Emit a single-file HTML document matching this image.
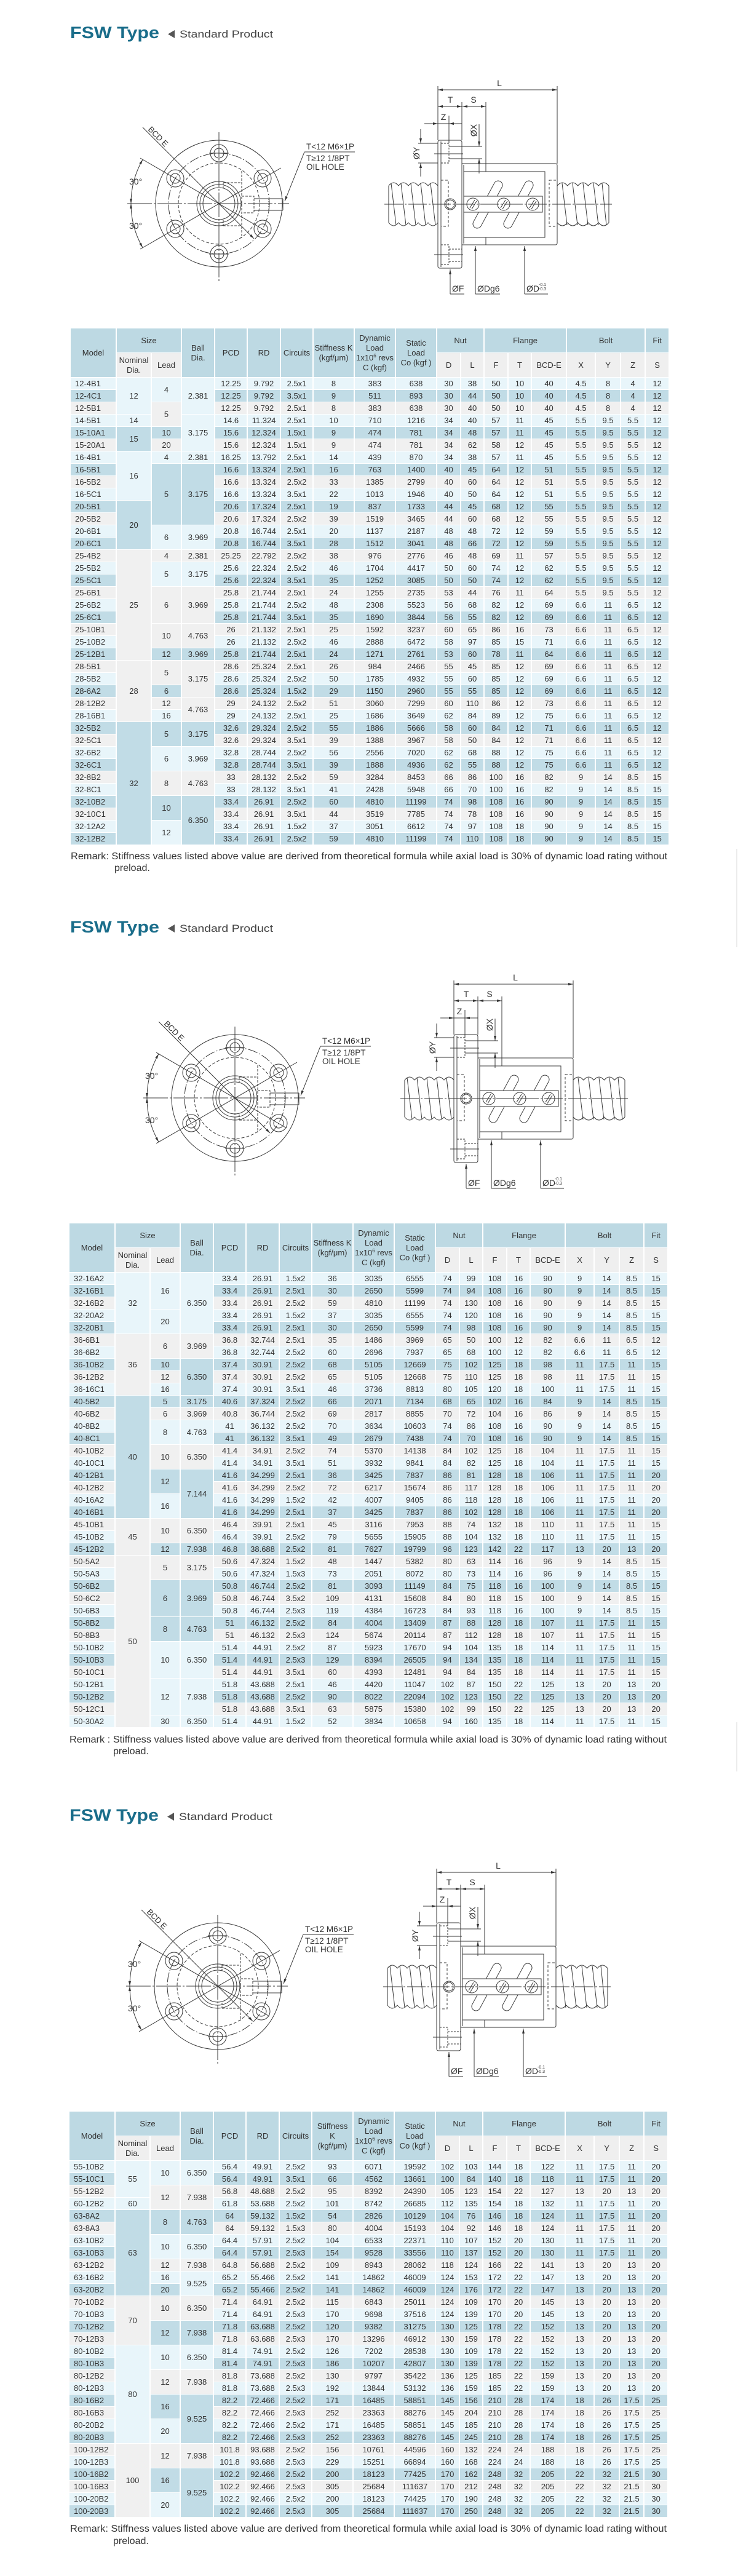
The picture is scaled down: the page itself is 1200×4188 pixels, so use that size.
<!DOCTYPE html>
<html><head><meta charset="utf-8">
<style>
html,body{margin:0;padding:0;background:#fff;}
body{width:1200px;height:4188px;position:relative;overflow:hidden;font-family:"Liberation Sans",Arial,sans-serif;}
table.t{position:absolute;border-collapse:separate;border-spacing:0;table-layout:fixed;width:974px;font-family:"Liberation Sans",Arial,sans-serif;font-size:13px;color:#333;}
.t th{background:#bdd9e3;font-weight:normal;line-height:16px;padding:0;border-right:2px solid #fff;border-bottom:1px solid #fff;height:39px;white-space:nowrap;text-align:center;vertical-align:middle;}
.t th.s{background:#efefef;}
.t td{padding:0;height:19px;line-height:19px;text-align:center;border-right:2px solid #fff;border-bottom:1px solid #fff;white-space:nowrap;overflow:hidden;vertical-align:middle;}
.t td.m{text-align:left;padding-left:7px;}
.t tr.L td{background:#e8f5fa;}
.t tr.M td{background:#c1dce6;}
.t tr.G td{background:#f0f0f0;}
.t sup{font-size:8px;line-height:0;vertical-align:5px;}
svg.ov{position:absolute;left:0;top:0;}
</style></head><body>

<table class="t" style="left:115px;top:534px;">
<colgroup><col style="width:75px"><col style="width:57px"><col style="width:49px"><col style="width:54px"><col style="width:53px"><col style="width:54px"><col style="width:53px"><col style="width:67px"><col style="width:67px"><col style="width:67px"><col style="width:39px"><col style="width:38px"><col style="width:39px"><col style="width:38px"><col style="width:57px"><col style="width:47px"><col style="width:41px"><col style="width:40px"><col style="width:39px"></colgroup>
<tr><th rowspan="2">Model</th><th colspan="2">Size</th><th rowspan="2">Ball<br>Dia.</th><th rowspan="2">PCD</th><th rowspan="2">RD</th><th rowspan="2">Circuits</th><th rowspan="2">Stiffness K<br>(kgf/μm)</th><th rowspan="2">Dynamic<br>Load<br>1x10<sup>6</sup> revs<br>C (kgf)</th><th rowspan="2">Static<br>Load<br>Co (kgf )</th><th colspan="2">Nut</th><th colspan="3">Flange</th><th colspan="3">Bolt</th><th>Fit</th></tr>
<tr><th class="s">Nominal<br>Dia.</th><th class="s">Lead</th><th class="s">D</th><th class="s">L</th><th class="s">F</th><th class="s">T</th><th class="s">BCD-E</th><th class="s">X</th><th class="s">Y</th><th class="s">Z</th><th class="s">S</th></tr>
<tr class="L"><td class="m">12-4B1</td><td rowspan="3">12</td><td rowspan="2">4</td><td rowspan="3">2.381</td><td>12.25</td><td>9.792</td><td>2.5x1</td><td>8</td><td>383</td><td>638</td><td>30</td><td>38</td><td>50</td><td>10</td><td>40</td><td>4.5</td><td>8</td><td>4</td><td>12</td></tr>
<tr class="M"><td class="m">12-4C1</td><td>12.25</td><td>9.792</td><td>3.5x1</td><td>9</td><td>511</td><td>893</td><td>30</td><td>44</td><td>50</td><td>10</td><td>40</td><td>4.5</td><td>8</td><td>4</td><td>12</td></tr>
<tr class="G"><td class="m">12-5B1</td><td rowspan="2">5</td><td>12.25</td><td>9.792</td><td>2.5x1</td><td>8</td><td>383</td><td>638</td><td>30</td><td>40</td><td>50</td><td>10</td><td>40</td><td>4.5</td><td>8</td><td>4</td><td>12</td></tr>
<tr class="L"><td class="m">14-5B1</td><td>14</td><td rowspan="3">3.175</td><td>14.6</td><td>11.324</td><td>2.5x1</td><td>10</td><td>710</td><td>1216</td><td>34</td><td>40</td><td>57</td><td>11</td><td>45</td><td>5.5</td><td>9.5</td><td>5.5</td><td>12</td></tr>
<tr class="M"><td class="m">15-10A1</td><td rowspan="2">15</td><td>10</td><td>15.6</td><td>12.324</td><td>1.5x1</td><td>9</td><td>474</td><td>781</td><td>34</td><td>48</td><td>57</td><td>11</td><td>45</td><td>5.5</td><td>9.5</td><td>5.5</td><td>12</td></tr>
<tr class="G"><td class="m">15-20A1</td><td>20</td><td>15.6</td><td>12.324</td><td>1.5x1</td><td>9</td><td>474</td><td>781</td><td>34</td><td>62</td><td>58</td><td>12</td><td>45</td><td>5.5</td><td>9.5</td><td>5.5</td><td>12</td></tr>
<tr class="L"><td class="m">16-4B1</td><td rowspan="4">16</td><td>4</td><td>2.381</td><td>16.25</td><td>13.792</td><td>2.5x1</td><td>14</td><td>439</td><td>870</td><td>34</td><td>38</td><td>57</td><td>11</td><td>45</td><td>5.5</td><td>9.5</td><td>5.5</td><td>12</td></tr>
<tr class="M"><td class="m">16-5B1</td><td rowspan="5">5</td><td rowspan="5">3.175</td><td>16.6</td><td>13.324</td><td>2.5x1</td><td>16</td><td>763</td><td>1400</td><td>40</td><td>45</td><td>64</td><td>12</td><td>51</td><td>5.5</td><td>9.5</td><td>5.5</td><td>12</td></tr>
<tr class="G"><td class="m">16-5B2</td><td>16.6</td><td>13.324</td><td>2.5x2</td><td>33</td><td>1385</td><td>2799</td><td>40</td><td>60</td><td>64</td><td>12</td><td>51</td><td>5.5</td><td>9.5</td><td>5.5</td><td>12</td></tr>
<tr class="L"><td class="m">16-5C1</td><td>16.6</td><td>13.324</td><td>3.5x1</td><td>22</td><td>1013</td><td>1946</td><td>40</td><td>50</td><td>64</td><td>12</td><td>51</td><td>5.5</td><td>9.5</td><td>5.5</td><td>12</td></tr>
<tr class="M"><td class="m">20-5B1</td><td rowspan="4">20</td><td>20.6</td><td>17.324</td><td>2.5x1</td><td>19</td><td>837</td><td>1733</td><td>44</td><td>45</td><td>68</td><td>12</td><td>55</td><td>5.5</td><td>9.5</td><td>5.5</td><td>12</td></tr>
<tr class="G"><td class="m">20-5B2</td><td>20.6</td><td>17.324</td><td>2.5x2</td><td>39</td><td>1519</td><td>3465</td><td>44</td><td>60</td><td>68</td><td>12</td><td>55</td><td>5.5</td><td>9.5</td><td>5.5</td><td>12</td></tr>
<tr class="L"><td class="m">20-6B1</td><td rowspan="2">6</td><td rowspan="2">3.969</td><td>20.8</td><td>16.744</td><td>2.5x1</td><td>20</td><td>1137</td><td>2187</td><td>48</td><td>48</td><td>72</td><td>12</td><td>59</td><td>5.5</td><td>9.5</td><td>5.5</td><td>12</td></tr>
<tr class="M"><td class="m">20-6C1</td><td>20.8</td><td>16.744</td><td>3.5x1</td><td>28</td><td>1512</td><td>3041</td><td>48</td><td>66</td><td>72</td><td>12</td><td>59</td><td>5.5</td><td>9.5</td><td>5.5</td><td>12</td></tr>
<tr class="G"><td class="m">25-4B2</td><td rowspan="9">25</td><td>4</td><td>2.381</td><td>25.25</td><td>22.792</td><td>2.5x2</td><td>38</td><td>976</td><td>2776</td><td>46</td><td>48</td><td>69</td><td>11</td><td>57</td><td>5.5</td><td>9.5</td><td>5.5</td><td>12</td></tr>
<tr class="L"><td class="m">25-5B2</td><td rowspan="2">5</td><td rowspan="2">3.175</td><td>25.6</td><td>22.324</td><td>2.5x2</td><td>46</td><td>1704</td><td>4417</td><td>50</td><td>60</td><td>74</td><td>12</td><td>62</td><td>5.5</td><td>9.5</td><td>5.5</td><td>12</td></tr>
<tr class="M"><td class="m">25-5C1</td><td>25.6</td><td>22.324</td><td>3.5x1</td><td>35</td><td>1252</td><td>3085</td><td>50</td><td>50</td><td>74</td><td>12</td><td>62</td><td>5.5</td><td>9.5</td><td>5.5</td><td>12</td></tr>
<tr class="G"><td class="m">25-6B1</td><td rowspan="3">6</td><td rowspan="3">3.969</td><td>25.8</td><td>21.744</td><td>2.5x1</td><td>24</td><td>1255</td><td>2735</td><td>53</td><td>44</td><td>76</td><td>11</td><td>64</td><td>5.5</td><td>9.5</td><td>5.5</td><td>12</td></tr>
<tr class="L"><td class="m">25-6B2</td><td>25.8</td><td>21.744</td><td>2.5x2</td><td>48</td><td>2308</td><td>5523</td><td>56</td><td>68</td><td>82</td><td>12</td><td>69</td><td>6.6</td><td>11</td><td>6.5</td><td>12</td></tr>
<tr class="M"><td class="m">25-6C1</td><td>25.8</td><td>21.744</td><td>3.5x1</td><td>35</td><td>1690</td><td>3844</td><td>56</td><td>55</td><td>82</td><td>12</td><td>69</td><td>6.6</td><td>11</td><td>6.5</td><td>12</td></tr>
<tr class="G"><td class="m">25-10B1</td><td rowspan="2">10</td><td rowspan="2">4.763</td><td>26</td><td>21.132</td><td>2.5x1</td><td>25</td><td>1592</td><td>3237</td><td>60</td><td>65</td><td>86</td><td>16</td><td>73</td><td>6.6</td><td>11</td><td>6.5</td><td>12</td></tr>
<tr class="L"><td class="m">25-10B2</td><td>26</td><td>21.132</td><td>2.5x2</td><td>46</td><td>2888</td><td>6472</td><td>58</td><td>97</td><td>85</td><td>15</td><td>71</td><td>6.6</td><td>11</td><td>6.5</td><td>12</td></tr>
<tr class="M"><td class="m">25-12B1</td><td>12</td><td>3.969</td><td>25.8</td><td>21.744</td><td>2.5x1</td><td>24</td><td>1271</td><td>2761</td><td>53</td><td>60</td><td>78</td><td>11</td><td>64</td><td>6.6</td><td>11</td><td>6.5</td><td>12</td></tr>
<tr class="G"><td class="m">28-5B1</td><td rowspan="5">28</td><td rowspan="2">5</td><td rowspan="3">3.175</td><td>28.6</td><td>25.324</td><td>2.5x1</td><td>26</td><td>984</td><td>2466</td><td>55</td><td>45</td><td>85</td><td>12</td><td>69</td><td>6.6</td><td>11</td><td>6.5</td><td>12</td></tr>
<tr class="L"><td class="m">28-5B2</td><td>28.6</td><td>25.324</td><td>2.5x2</td><td>50</td><td>1785</td><td>4932</td><td>55</td><td>60</td><td>85</td><td>12</td><td>69</td><td>6.6</td><td>11</td><td>6.5</td><td>12</td></tr>
<tr class="M"><td class="m">28-6A2</td><td>6</td><td>28.6</td><td>25.324</td><td>1.5x2</td><td>29</td><td>1150</td><td>2960</td><td>55</td><td>55</td><td>85</td><td>12</td><td>69</td><td>6.6</td><td>11</td><td>6.5</td><td>12</td></tr>
<tr class="G"><td class="m">28-12B2</td><td>12</td><td rowspan="2">4.763</td><td>29</td><td>24.132</td><td>2.5x2</td><td>51</td><td>3060</td><td>7299</td><td>60</td><td>110</td><td>86</td><td>12</td><td>73</td><td>6.6</td><td>11</td><td>6.5</td><td>12</td></tr>
<tr class="L"><td class="m">28-16B1</td><td>16</td><td>29</td><td>24.132</td><td>2.5x1</td><td>25</td><td>1686</td><td>3649</td><td>62</td><td>84</td><td>89</td><td>12</td><td>75</td><td>6.6</td><td>11</td><td>6.5</td><td>12</td></tr>
<tr class="M"><td class="m">32-5B2</td><td rowspan="10">32</td><td rowspan="2">5</td><td rowspan="2">3.175</td><td>32.6</td><td>29.324</td><td>2.5x2</td><td>55</td><td>1886</td><td>5666</td><td>58</td><td>60</td><td>84</td><td>12</td><td>71</td><td>6.6</td><td>11</td><td>6.5</td><td>12</td></tr>
<tr class="G"><td class="m">32-5C1</td><td>32.6</td><td>29.324</td><td>3.5x1</td><td>39</td><td>1388</td><td>3967</td><td>58</td><td>50</td><td>84</td><td>12</td><td>71</td><td>6.6</td><td>11</td><td>6.5</td><td>12</td></tr>
<tr class="L"><td class="m">32-6B2</td><td rowspan="2">6</td><td rowspan="2">3.969</td><td>32.8</td><td>28.744</td><td>2.5x2</td><td>56</td><td>2556</td><td>7020</td><td>62</td><td>68</td><td>88</td><td>12</td><td>75</td><td>6.6</td><td>11</td><td>6.5</td><td>12</td></tr>
<tr class="M"><td class="m">32-6C1</td><td>32.8</td><td>28.744</td><td>3.5x1</td><td>39</td><td>1888</td><td>4936</td><td>62</td><td>55</td><td>88</td><td>12</td><td>75</td><td>6.6</td><td>11</td><td>6.5</td><td>12</td></tr>
<tr class="G"><td class="m">32-8B2</td><td rowspan="2">8</td><td rowspan="2">4.763</td><td>33</td><td>28.132</td><td>2.5x2</td><td>59</td><td>3284</td><td>8453</td><td>66</td><td>86</td><td>100</td><td>16</td><td>82</td><td>9</td><td>14</td><td>8.5</td><td>15</td></tr>
<tr class="L"><td class="m">32-8C1</td><td>33</td><td>28.132</td><td>3.5x1</td><td>41</td><td>2428</td><td>5948</td><td>66</td><td>70</td><td>100</td><td>16</td><td>82</td><td>9</td><td>14</td><td>8.5</td><td>15</td></tr>
<tr class="M"><td class="m">32-10B2</td><td rowspan="2">10</td><td rowspan="4">6.350</td><td>33.4</td><td>26.91</td><td>2.5x2</td><td>60</td><td>4810</td><td>11199</td><td>74</td><td>98</td><td>108</td><td>16</td><td>90</td><td>9</td><td>14</td><td>8.5</td><td>15</td></tr>
<tr class="G"><td class="m">32-10C1</td><td>33.4</td><td>26.91</td><td>3.5x1</td><td>44</td><td>3519</td><td>7785</td><td>74</td><td>78</td><td>108</td><td>16</td><td>90</td><td>9</td><td>14</td><td>8.5</td><td>15</td></tr>
<tr class="L"><td class="m">32-12A2</td><td rowspan="2">12</td><td>33.4</td><td>26.91</td><td>1.5x2</td><td>37</td><td>3051</td><td>6612</td><td>74</td><td>97</td><td>108</td><td>18</td><td>90</td><td>9</td><td>14</td><td>8.5</td><td>15</td></tr>
<tr class="M"><td class="m">32-12B2</td><td>33.4</td><td>26.91</td><td>2.5x2</td><td>59</td><td>4810</td><td>11199</td><td>74</td><td>110</td><td>108</td><td>18</td><td>90</td><td>9</td><td>14</td><td>8.5</td><td>15</td></tr>
</table>

<table class="t" style="left:113px;top:1989px;">
<colgroup><col style="width:75px"><col style="width:57px"><col style="width:49px"><col style="width:54px"><col style="width:53px"><col style="width:54px"><col style="width:53px"><col style="width:67px"><col style="width:67px"><col style="width:67px"><col style="width:39px"><col style="width:38px"><col style="width:39px"><col style="width:38px"><col style="width:57px"><col style="width:47px"><col style="width:41px"><col style="width:40px"><col style="width:39px"></colgroup>
<tr><th rowspan="2">Model</th><th colspan="2">Size</th><th rowspan="2">Ball<br>Dia.</th><th rowspan="2">PCD</th><th rowspan="2">RD</th><th rowspan="2">Circuits</th><th rowspan="2">Stiffness K<br>(kgf/μm)</th><th rowspan="2">Dynamic<br>Load<br>1x10<sup>6</sup> revs<br>C (kgf)</th><th rowspan="2">Static<br>Load<br>Co (kgf )</th><th colspan="2">Nut</th><th colspan="3">Flange</th><th colspan="3">Bolt</th><th>Fit</th></tr>
<tr><th class="s">Nominal<br>Dia.</th><th class="s">Lead</th><th class="s">D</th><th class="s">L</th><th class="s">F</th><th class="s">T</th><th class="s">BCD-E</th><th class="s">X</th><th class="s">Y</th><th class="s">Z</th><th class="s">S</th></tr>
<tr class="L"><td class="m">32-16A2</td><td rowspan="5">32</td><td rowspan="3">16</td><td rowspan="5">6.350</td><td>33.4</td><td>26.91</td><td>1.5x2</td><td>36</td><td>3035</td><td>6555</td><td>74</td><td>99</td><td>108</td><td>16</td><td>90</td><td>9</td><td>14</td><td>8.5</td><td>15</td></tr>
<tr class="M"><td class="m">32-16B1</td><td>33.4</td><td>26.91</td><td>2.5x1</td><td>30</td><td>2650</td><td>5599</td><td>74</td><td>94</td><td>108</td><td>16</td><td>90</td><td>9</td><td>14</td><td>8.5</td><td>15</td></tr>
<tr class="G"><td class="m">32-16B2</td><td>33.4</td><td>26.91</td><td>2.5x2</td><td>59</td><td>4810</td><td>11199</td><td>74</td><td>130</td><td>108</td><td>16</td><td>90</td><td>9</td><td>14</td><td>8.5</td><td>15</td></tr>
<tr class="L"><td class="m">32-20A2</td><td rowspan="2">20</td><td>33.4</td><td>26.91</td><td>1.5x2</td><td>37</td><td>3035</td><td>6555</td><td>74</td><td>120</td><td>108</td><td>16</td><td>90</td><td>9</td><td>14</td><td>8.5</td><td>15</td></tr>
<tr class="M"><td class="m">32-20B1</td><td>33.4</td><td>26.91</td><td>2.5x1</td><td>30</td><td>2650</td><td>5599</td><td>74</td><td>98</td><td>108</td><td>16</td><td>90</td><td>9</td><td>14</td><td>8.5</td><td>15</td></tr>
<tr class="G"><td class="m">36-6B1</td><td rowspan="5">36</td><td rowspan="2">6</td><td rowspan="2">3.969</td><td>36.8</td><td>32.744</td><td>2.5x1</td><td>35</td><td>1486</td><td>3969</td><td>65</td><td>50</td><td>100</td><td>12</td><td>82</td><td>6.6</td><td>11</td><td>6.5</td><td>12</td></tr>
<tr class="L"><td class="m">36-6B2</td><td>36.8</td><td>32.744</td><td>2.5x2</td><td>60</td><td>2696</td><td>7937</td><td>65</td><td>68</td><td>100</td><td>12</td><td>82</td><td>6.6</td><td>11</td><td>6.5</td><td>12</td></tr>
<tr class="M"><td class="m">36-10B2</td><td>10</td><td rowspan="3">6.350</td><td>37.4</td><td>30.91</td><td>2.5x2</td><td>68</td><td>5105</td><td>12669</td><td>75</td><td>102</td><td>125</td><td>18</td><td>98</td><td>11</td><td>17.5</td><td>11</td><td>15</td></tr>
<tr class="G"><td class="m">36-12B2</td><td>12</td><td>37.4</td><td>30.91</td><td>2.5x2</td><td>65</td><td>5105</td><td>12668</td><td>75</td><td>110</td><td>125</td><td>18</td><td>98</td><td>11</td><td>17.5</td><td>11</td><td>15</td></tr>
<tr class="L"><td class="m">36-16C1</td><td>16</td><td>37.4</td><td>30.91</td><td>3.5x1</td><td>46</td><td>3736</td><td>8813</td><td>80</td><td>105</td><td>120</td><td>18</td><td>100</td><td>11</td><td>17.5</td><td>11</td><td>15</td></tr>
<tr class="M"><td class="m">40-5B2</td><td rowspan="10">40</td><td>5</td><td>3.175</td><td>40.6</td><td>37.324</td><td>2.5x2</td><td>66</td><td>2071</td><td>7134</td><td>68</td><td>65</td><td>102</td><td>16</td><td>84</td><td>9</td><td>14</td><td>8.5</td><td>15</td></tr>
<tr class="G"><td class="m">40-6B2</td><td>6</td><td>3.969</td><td>40.8</td><td>36.744</td><td>2.5x2</td><td>69</td><td>2817</td><td>8855</td><td>70</td><td>72</td><td>104</td><td>16</td><td>86</td><td>9</td><td>14</td><td>8.5</td><td>15</td></tr>
<tr class="L"><td class="m">40-8B2</td><td rowspan="2">8</td><td rowspan="2">4.763</td><td>41</td><td>36.132</td><td>2.5x2</td><td>70</td><td>3634</td><td>10603</td><td>74</td><td>86</td><td>108</td><td>16</td><td>90</td><td>9</td><td>14</td><td>8.5</td><td>15</td></tr>
<tr class="M"><td class="m">40-8C1</td><td>41</td><td>36.132</td><td>3.5x1</td><td>49</td><td>2679</td><td>7438</td><td>74</td><td>70</td><td>108</td><td>16</td><td>90</td><td>9</td><td>14</td><td>8.5</td><td>15</td></tr>
<tr class="G"><td class="m">40-10B2</td><td rowspan="2">10</td><td rowspan="2">6.350</td><td>41.4</td><td>34.91</td><td>2.5x2</td><td>74</td><td>5370</td><td>14138</td><td>84</td><td>102</td><td>125</td><td>18</td><td>104</td><td>11</td><td>17.5</td><td>11</td><td>15</td></tr>
<tr class="L"><td class="m">40-10C1</td><td>41.4</td><td>34.91</td><td>3.5x1</td><td>51</td><td>3932</td><td>9841</td><td>84</td><td>82</td><td>125</td><td>18</td><td>104</td><td>11</td><td>17.5</td><td>11</td><td>15</td></tr>
<tr class="M"><td class="m">40-12B1</td><td rowspan="2">12</td><td rowspan="4">7.144</td><td>41.6</td><td>34.299</td><td>2.5x1</td><td>36</td><td>3425</td><td>7837</td><td>86</td><td>81</td><td>128</td><td>18</td><td>106</td><td>11</td><td>17.5</td><td>11</td><td>20</td></tr>
<tr class="G"><td class="m">40-12B2</td><td>41.6</td><td>34.299</td><td>2.5x2</td><td>72</td><td>6217</td><td>15674</td><td>86</td><td>117</td><td>128</td><td>18</td><td>106</td><td>11</td><td>17.5</td><td>11</td><td>20</td></tr>
<tr class="L"><td class="m">40-16A2</td><td rowspan="2">16</td><td>41.6</td><td>34.299</td><td>1.5x2</td><td>42</td><td>4007</td><td>9405</td><td>86</td><td>118</td><td>128</td><td>18</td><td>106</td><td>11</td><td>17.5</td><td>11</td><td>20</td></tr>
<tr class="M"><td class="m">40-16B1</td><td>41.6</td><td>34.299</td><td>2.5x1</td><td>37</td><td>3425</td><td>7837</td><td>86</td><td>102</td><td>128</td><td>18</td><td>106</td><td>11</td><td>17.5</td><td>11</td><td>20</td></tr>
<tr class="G"><td class="m">45-10B1</td><td rowspan="3">45</td><td rowspan="2">10</td><td rowspan="2">6.350</td><td>46.4</td><td>39.91</td><td>2.5x1</td><td>45</td><td>3116</td><td>7953</td><td>88</td><td>74</td><td>132</td><td>18</td><td>110</td><td>11</td><td>17.5</td><td>11</td><td>15</td></tr>
<tr class="L"><td class="m">45-10B2</td><td>46.4</td><td>39.91</td><td>2.5x2</td><td>79</td><td>5655</td><td>15905</td><td>88</td><td>104</td><td>132</td><td>18</td><td>110</td><td>11</td><td>17.5</td><td>11</td><td>15</td></tr>
<tr class="M"><td class="m">45-12B2</td><td>12</td><td>7.938</td><td>46.8</td><td>38.688</td><td>2.5x2</td><td>81</td><td>7627</td><td>19799</td><td>96</td><td>123</td><td>142</td><td>22</td><td>117</td><td>13</td><td>20</td><td>13</td><td>20</td></tr>
<tr class="G"><td class="m">50-5A2</td><td rowspan="14">50</td><td rowspan="2">5</td><td rowspan="2">3.175</td><td>50.6</td><td>47.324</td><td>1.5x2</td><td>48</td><td>1447</td><td>5382</td><td>80</td><td>63</td><td>114</td><td>16</td><td>96</td><td>9</td><td>14</td><td>8.5</td><td>15</td></tr>
<tr class="L"><td class="m">50-5A3</td><td>50.6</td><td>47.324</td><td>1.5x3</td><td>73</td><td>2051</td><td>8072</td><td>80</td><td>73</td><td>114</td><td>16</td><td>96</td><td>9</td><td>14</td><td>8.5</td><td>15</td></tr>
<tr class="M"><td class="m">50-6B2</td><td rowspan="3">6</td><td rowspan="3">3.969</td><td>50.8</td><td>46.744</td><td>2.5x2</td><td>81</td><td>3093</td><td>11149</td><td>84</td><td>75</td><td>118</td><td>16</td><td>100</td><td>9</td><td>14</td><td>8.5</td><td>15</td></tr>
<tr class="G"><td class="m">50-6C2</td><td>50.8</td><td>46.744</td><td>3.5x2</td><td>109</td><td>4131</td><td>15608</td><td>84</td><td>80</td><td>118</td><td>15</td><td>100</td><td>9</td><td>14</td><td>8.5</td><td>15</td></tr>
<tr class="L"><td class="m">50-6B3</td><td>50.8</td><td>46.744</td><td>2.5x3</td><td>119</td><td>4384</td><td>16723</td><td>84</td><td>93</td><td>118</td><td>16</td><td>100</td><td>9</td><td>14</td><td>8.5</td><td>15</td></tr>
<tr class="M"><td class="m">50-8B2</td><td rowspan="2">8</td><td rowspan="2">4.763</td><td>51</td><td>46.132</td><td>2.5x2</td><td>84</td><td>4004</td><td>13409</td><td>87</td><td>88</td><td>128</td><td>18</td><td>107</td><td>11</td><td>17.5</td><td>11</td><td>15</td></tr>
<tr class="G"><td class="m">50-8B3</td><td>51</td><td>46.132</td><td>2.5x3</td><td>124</td><td>5674</td><td>20114</td><td>87</td><td>112</td><td>128</td><td>18</td><td>107</td><td>11</td><td>17.5</td><td>11</td><td>15</td></tr>
<tr class="L"><td class="m">50-10B2</td><td rowspan="3">10</td><td rowspan="3">6.350</td><td>51.4</td><td>44.91</td><td>2.5x2</td><td>87</td><td>5923</td><td>17670</td><td>94</td><td>104</td><td>135</td><td>18</td><td>114</td><td>11</td><td>17.5</td><td>11</td><td>15</td></tr>
<tr class="M"><td class="m">50-10B3</td><td>51.4</td><td>44.91</td><td>2.5x3</td><td>129</td><td>8394</td><td>26505</td><td>94</td><td>134</td><td>135</td><td>18</td><td>114</td><td>11</td><td>17.5</td><td>11</td><td>15</td></tr>
<tr class="G"><td class="m">50-10C1</td><td>51.4</td><td>44.91</td><td>3.5x1</td><td>60</td><td>4393</td><td>12481</td><td>94</td><td>84</td><td>135</td><td>18</td><td>114</td><td>11</td><td>17.5</td><td>11</td><td>15</td></tr>
<tr class="L"><td class="m">50-12B1</td><td rowspan="3">12</td><td rowspan="3">7.938</td><td>51.8</td><td>43.688</td><td>2.5x1</td><td>46</td><td>4420</td><td>11047</td><td>102</td><td>87</td><td>150</td><td>22</td><td>125</td><td>13</td><td>20</td><td>13</td><td>20</td></tr>
<tr class="M"><td class="m">50-12B2</td><td>51.8</td><td>43.688</td><td>2.5x2</td><td>90</td><td>8022</td><td>22094</td><td>102</td><td>123</td><td>150</td><td>22</td><td>125</td><td>13</td><td>20</td><td>13</td><td>20</td></tr>
<tr class="G"><td class="m">50-12C1</td><td>51.8</td><td>43.688</td><td>3.5x1</td><td>63</td><td>5875</td><td>15380</td><td>102</td><td>99</td><td>150</td><td>22</td><td>125</td><td>13</td><td>20</td><td>13</td><td>20</td></tr>
<tr class="L"><td class="m">50-30A2</td><td>30</td><td>6.350</td><td>51.4</td><td>44.91</td><td>1.5x2</td><td>52</td><td>3834</td><td>10658</td><td>94</td><td>160</td><td>135</td><td>18</td><td>114</td><td>11</td><td>17.5</td><td>11</td><td>15</td></tr>
</table>

<table class="t" style="left:113px;top:3433px;">
<colgroup><col style="width:75px"><col style="width:57px"><col style="width:49px"><col style="width:54px"><col style="width:53px"><col style="width:54px"><col style="width:53px"><col style="width:67px"><col style="width:67px"><col style="width:67px"><col style="width:39px"><col style="width:38px"><col style="width:39px"><col style="width:38px"><col style="width:57px"><col style="width:47px"><col style="width:41px"><col style="width:40px"><col style="width:39px"></colgroup>
<tr><th rowspan="2">Model</th><th colspan="2">Size</th><th rowspan="2">Ball<br>Dia.</th><th rowspan="2">PCD</th><th rowspan="2">RD</th><th rowspan="2">Circuits</th><th rowspan="2">Stiffness<br>K<br>(kgf/μm)</th><th rowspan="2">Dynamic<br>Load<br>1x10<sup>6</sup> revs<br>C (kgf)</th><th rowspan="2">Static<br>Load<br>Co (kgf )</th><th colspan="2">Nut</th><th colspan="3">Flange</th><th colspan="3">Bolt</th><th>Fit</th></tr>
<tr><th class="s">Nominal<br>Dia.</th><th class="s">Lead</th><th class="s">D</th><th class="s">L</th><th class="s">F</th><th class="s">T</th><th class="s">BCD-E</th><th class="s">X</th><th class="s">Y</th><th class="s">Z</th><th class="s">S</th></tr>
<tr class="L"><td class="m">55-10B2</td><td rowspan="3">55</td><td rowspan="2">10</td><td rowspan="2">6.350</td><td>56.4</td><td>49.91</td><td>2.5x2</td><td>93</td><td>6071</td><td>19592</td><td>102</td><td>103</td><td>144</td><td>18</td><td>122</td><td>11</td><td>17.5</td><td>11</td><td>20</td></tr>
<tr class="M"><td class="m">55-10C1</td><td>56.4</td><td>49.91</td><td>3.5x1</td><td>66</td><td>4562</td><td>13661</td><td>100</td><td>84</td><td>140</td><td>18</td><td>118</td><td>11</td><td>17.5</td><td>11</td><td>20</td></tr>
<tr class="G"><td class="m">55-12B2</td><td rowspan="2">12</td><td rowspan="2">7.938</td><td>56.8</td><td>48.688</td><td>2.5x2</td><td>95</td><td>8392</td><td>24390</td><td>105</td><td>123</td><td>154</td><td>22</td><td>127</td><td>13</td><td>20</td><td>13</td><td>20</td></tr>
<tr class="L"><td class="m">60-12B2</td><td>60</td><td>61.8</td><td>53.688</td><td>2.5x2</td><td>101</td><td>8742</td><td>26685</td><td>112</td><td>135</td><td>154</td><td>18</td><td>132</td><td>11</td><td>17.5</td><td>11</td><td>20</td></tr>
<tr class="M"><td class="m">63-8A2</td><td rowspan="7">63</td><td rowspan="2">8</td><td rowspan="2">4.763</td><td>64</td><td>59.132</td><td>1.5x2</td><td>54</td><td>2826</td><td>10129</td><td>104</td><td>76</td><td>146</td><td>18</td><td>124</td><td>11</td><td>17.5</td><td>11</td><td>20</td></tr>
<tr class="G"><td class="m">63-8A3</td><td>64</td><td>59.132</td><td>1.5x3</td><td>80</td><td>4004</td><td>15193</td><td>104</td><td>92</td><td>146</td><td>18</td><td>124</td><td>11</td><td>17.5</td><td>11</td><td>20</td></tr>
<tr class="L"><td class="m">63-10B2</td><td rowspan="2">10</td><td rowspan="2">6.350</td><td>64.4</td><td>57.91</td><td>2.5x2</td><td>104</td><td>6533</td><td>22371</td><td>110</td><td>107</td><td>152</td><td>20</td><td>130</td><td>11</td><td>17.5</td><td>11</td><td>20</td></tr>
<tr class="M"><td class="m">63-10B3</td><td>64.4</td><td>57.91</td><td>2.5x3</td><td>154</td><td>9528</td><td>33556</td><td>110</td><td>137</td><td>152</td><td>20</td><td>130</td><td>11</td><td>17.5</td><td>11</td><td>20</td></tr>
<tr class="G"><td class="m">63-12B2</td><td>12</td><td>7.938</td><td>64.8</td><td>56.688</td><td>2.5x2</td><td>109</td><td>8943</td><td>28062</td><td>118</td><td>124</td><td>166</td><td>22</td><td>141</td><td>13</td><td>20</td><td>13</td><td>20</td></tr>
<tr class="L"><td class="m">63-16B2</td><td>16</td><td rowspan="2">9.525</td><td>65.2</td><td>55.466</td><td>2.5x2</td><td>141</td><td>14862</td><td>46009</td><td>124</td><td>153</td><td>172</td><td>22</td><td>147</td><td>13</td><td>20</td><td>13</td><td>20</td></tr>
<tr class="M"><td class="m">63-20B2</td><td>20</td><td>65.2</td><td>55.466</td><td>2.5x2</td><td>141</td><td>14862</td><td>46009</td><td>124</td><td>176</td><td>172</td><td>22</td><td>147</td><td>13</td><td>20</td><td>13</td><td>20</td></tr>
<tr class="G"><td class="m">70-10B2</td><td rowspan="4">70</td><td rowspan="2">10</td><td rowspan="2">6.350</td><td>71.4</td><td>64.91</td><td>2.5x2</td><td>115</td><td>6843</td><td>25011</td><td>124</td><td>109</td><td>170</td><td>20</td><td>145</td><td>13</td><td>20</td><td>13</td><td>20</td></tr>
<tr class="L"><td class="m">70-10B3</td><td>71.4</td><td>64.91</td><td>2.5x3</td><td>170</td><td>9698</td><td>37516</td><td>124</td><td>139</td><td>170</td><td>20</td><td>145</td><td>13</td><td>20</td><td>13</td><td>20</td></tr>
<tr class="M"><td class="m">70-12B2</td><td rowspan="2">12</td><td rowspan="2">7.938</td><td>71.8</td><td>63.688</td><td>2.5x2</td><td>120</td><td>9382</td><td>31275</td><td>130</td><td>125</td><td>178</td><td>22</td><td>152</td><td>13</td><td>20</td><td>13</td><td>20</td></tr>
<tr class="G"><td class="m">70-12B3</td><td>71.8</td><td>63.688</td><td>2.5x3</td><td>170</td><td>13296</td><td>46912</td><td>130</td><td>159</td><td>178</td><td>22</td><td>152</td><td>13</td><td>20</td><td>13</td><td>20</td></tr>
<tr class="L"><td class="m">80-10B2</td><td rowspan="8">80</td><td rowspan="2">10</td><td rowspan="2">6.350</td><td>81.4</td><td>74.91</td><td>2.5x2</td><td>126</td><td>7202</td><td>28538</td><td>130</td><td>109</td><td>178</td><td>22</td><td>152</td><td>13</td><td>20</td><td>13</td><td>20</td></tr>
<tr class="M"><td class="m">80-10B3</td><td>81.4</td><td>74.91</td><td>2.5x3</td><td>186</td><td>10207</td><td>42807</td><td>130</td><td>139</td><td>178</td><td>22</td><td>152</td><td>13</td><td>20</td><td>13</td><td>20</td></tr>
<tr class="G"><td class="m">80-12B2</td><td rowspan="2">12</td><td rowspan="2">7.938</td><td>81.8</td><td>73.688</td><td>2.5x2</td><td>130</td><td>9797</td><td>35422</td><td>136</td><td>125</td><td>185</td><td>22</td><td>159</td><td>13</td><td>20</td><td>13</td><td>20</td></tr>
<tr class="L"><td class="m">80-12B3</td><td>81.8</td><td>73.688</td><td>2.5x3</td><td>192</td><td>13844</td><td>53132</td><td>136</td><td>159</td><td>185</td><td>22</td><td>159</td><td>13</td><td>20</td><td>13</td><td>20</td></tr>
<tr class="M"><td class="m">80-16B2</td><td rowspan="2">16</td><td rowspan="4">9.525</td><td>82.2</td><td>72.466</td><td>2.5x2</td><td>171</td><td>16485</td><td>58851</td><td>145</td><td>156</td><td>210</td><td>28</td><td>174</td><td>18</td><td>26</td><td>17.5</td><td>25</td></tr>
<tr class="G"><td class="m">80-16B3</td><td>82.2</td><td>72.466</td><td>2.5x3</td><td>252</td><td>23363</td><td>88276</td><td>145</td><td>204</td><td>210</td><td>28</td><td>174</td><td>18</td><td>26</td><td>17.5</td><td>25</td></tr>
<tr class="L"><td class="m">80-20B2</td><td rowspan="2">20</td><td>82.2</td><td>72.466</td><td>2.5x2</td><td>171</td><td>16485</td><td>58851</td><td>145</td><td>185</td><td>210</td><td>28</td><td>174</td><td>18</td><td>26</td><td>17.5</td><td>25</td></tr>
<tr class="M"><td class="m">80-20B3</td><td>82.2</td><td>72.466</td><td>2.5x3</td><td>252</td><td>23363</td><td>88276</td><td>145</td><td>245</td><td>210</td><td>28</td><td>174</td><td>18</td><td>26</td><td>17.5</td><td>25</td></tr>
<tr class="G"><td class="m">100-12B2</td><td rowspan="6">100</td><td rowspan="2">12</td><td rowspan="2">7.938</td><td>101.8</td><td>93.688</td><td>2.5x2</td><td>156</td><td>10761</td><td>44596</td><td>160</td><td>132</td><td>224</td><td>24</td><td>188</td><td>18</td><td>26</td><td>17.5</td><td>25</td></tr>
<tr class="L"><td class="m">100-12B3</td><td>101.8</td><td>93.688</td><td>2.5x3</td><td>229</td><td>15251</td><td>66894</td><td>160</td><td>168</td><td>224</td><td>24</td><td>188</td><td>18</td><td>26</td><td>17.5</td><td>25</td></tr>
<tr class="M"><td class="m">100-16B2</td><td rowspan="2">16</td><td rowspan="4">9.525</td><td>102.2</td><td>92.466</td><td>2.5x2</td><td>200</td><td>18123</td><td>77425</td><td>170</td><td>162</td><td>248</td><td>32</td><td>205</td><td>22</td><td>32</td><td>21.5</td><td>30</td></tr>
<tr class="G"><td class="m">100-16B3</td><td>102.2</td><td>92.466</td><td>2.5x3</td><td>305</td><td>25684</td><td>111637</td><td>170</td><td>212</td><td>248</td><td>32</td><td>205</td><td>22</td><td>32</td><td>21.5</td><td>30</td></tr>
<tr class="L"><td class="m">100-20B2</td><td rowspan="2">20</td><td>102.2</td><td>92.466</td><td>2.5x2</td><td>200</td><td>18123</td><td>74425</td><td>170</td><td>190</td><td>248</td><td>32</td><td>205</td><td>22</td><td>32</td><td>21.5</td><td>30</td></tr>
<tr class="M"><td class="m">100-20B3</td><td>102.2</td><td>92.466</td><td>2.5x3</td><td>305</td><td>25684</td><td>111637</td><td>170</td><td>250</td><td>248</td><td>32</td><td>205</td><td>22</td><td>32</td><td>21.5</td><td>30</td></tr>
</table>

<svg class="ov" width="1200" height="4188" viewBox="0 0 1200 4188" xmlns="http://www.w3.org/2000/svg" font-family="'Liberation Sans', Arial, sans-serif">
<defs>
<marker id="ar" viewBox="0 0 8 4" refX="8" refY="2" markerWidth="8" markerHeight="4" markerUnits="userSpaceOnUse" orient="auto-start-reverse"><path d="M0,0L8,2L0,4z" fill="#333"/></marker>
</defs>

<!-- page edge marks -->
<path d="M1198,1380V1540M1198,2800V2880" stroke="#d8d8d8" stroke-width="1"/>

<!-- Titles -->
<text x="114" y="62" font-size="27" font-weight="bold" fill="#1a6d8a" textLength="145" lengthAdjust="spacingAndGlyphs">FSW Type</text>
<polygon points="273,55.5 284,49 284,62" fill="#555"/>
<text x="292" y="61" font-size="16.5" fill="#444" textLength="152" lengthAdjust="spacingAndGlyphs">Standard Product</text>

<text x="114" y="1516" font-size="27" font-weight="bold" fill="#1a6d8a" textLength="145" lengthAdjust="spacingAndGlyphs">FSW Type</text>
<polygon points="273,1509.5 284,1503 284,1516" fill="#555"/>
<text x="292" y="1515" font-size="16.5" fill="#444" textLength="152" lengthAdjust="spacingAndGlyphs">Standard Product</text>

<text x="113" y="2960" font-size="27" font-weight="bold" fill="#1a6d8a" textLength="145" lengthAdjust="spacingAndGlyphs">FSW Type</text>
<polygon points="272,2953.5 283,2947 283,2960" fill="#555"/>
<text x="291" y="2959" font-size="16.5" fill="#444" textLength="152" lengthAdjust="spacingAndGlyphs">Standard Product</text>

<!-- Remarks -->
<g fill="#333" font-size="16">
<text x="115" y="1397" textLength="970" lengthAdjust="spacingAndGlyphs">Remark: Stiffness values listed above value are derived from theoretical formula while axial load is 30% of dynamic load rating without</text>
<text x="186" y="1416">preload.</text>
<text x="113" y="2833" textLength="971" lengthAdjust="spacingAndGlyphs">Remark : Stiffness values listed above value are derived from theoretical formula while axial load is 30% of dynamic load rating without</text>
<text x="184" y="2852">preload.</text>
<text x="114" y="4116" textLength="970" lengthAdjust="spacingAndGlyphs">Remark: Stiffness values listed above value are derived from theoretical formula while axial load is 30% of dynamic load rating without</text>
<text x="184" y="4136">preload.</text>
</g>

<!-- ===== Drawing 1 ===== -->
<g transform="translate(0,0)">
<g fill="none" stroke="#383838" stroke-width="1">
<circle cx="356" cy="331" r="103"/>
<circle cx="356" cy="331" r="82" stroke-dasharray="16 3 2 3"/>
<circle cx="356" cy="331" r="66" stroke-dasharray="5 3"/>
<circle cx="356" cy="331" r="36"/><circle cx="356" cy="331" r="31"/><circle cx="356" cy="331" r="26"/>
<circle cx="356" cy="249" r="14"/><circle cx="356" cy="249" r="8"/>
<circle cx="356" cy="413" r="14"/><circle cx="356" cy="413" r="8"/>
<circle cx="285" cy="290" r="14"/><circle cx="285" cy="290" r="8"/>
<circle cx="427" cy="290" r="14"/><circle cx="427" cy="290" r="8"/>
<circle cx="285" cy="372" r="14"/><circle cx="285" cy="372" r="8"/>
<circle cx="427" cy="372" r="14"/><circle cx="427" cy="372" r="8"/>
<path d="M340,249H372M340,413H372"/>
<path d="M356,215V457M207,331H470" stroke-dasharray="40 3 3 3"/>
<path d="M228,257L440,380M228,405L457,273"/>
<path d="M232,259.5A143,143 0 0 0 213,331" marker-start="url(#ar)" marker-end="url(#ar)"/>
<path d="M213,331A143,143 0 0 0 232,402.5" marker-start="url(#ar)" marker-end="url(#ar)"/>
<path d="M232,207L413,388" marker-end="url(#ar)"/>
<path d="M363,297H393M363,367H393M393,278V387M393,319H413V346H393M363,297V306M363,358V367" stroke-dasharray="4 2"/>
<path d="M413,323H460M413,342H460M460,323V342"/>
<path d="M437,323V342" stroke-dasharray="2 2"/>
<path d="M495,247L463,327" marker-end="url(#ar)"/>
<path d="M495,247H577"/>
<path d="M712,140V228M906,140V266M751,166V228M790,166V279M730,188V233"/>
<path d="M712,146H906" marker-start="url(#ar)" marker-end="url(#ar)"/>
<path d="M712,173H751" marker-start="url(#ar)" marker-end="url(#ar)"/>
<path d="M752,173H790" marker-start="url(#ar)" marker-end="url(#ar)"/>
<path d="M690,201H712" marker-end="url(#ar)"/><path d="M712,201H730"/><path d="M751,201H730" marker-end="url(#ar)"/>
<path d="M779,202V238" marker-end="url(#ar)"/><path d="M779,282V258" marker-end="url(#ar)"/>
<path d="M730,238H784M730,258H784"/>
<path d="M684,210V233" marker-end="url(#ar)"/><path d="M684,287V265" marker-end="url(#ar)"/>
<path d="M680,233H712M680,265H712"/>
<rect x="712" y="228" width="39" height="208" rx="3"/>
<path d="M717,230V434"/>
<path d="M717,233H730V265H717M717,398H730V430H717M730,405H751M730,425H751" stroke-dasharray="3 2"/>
<path d="M706,250H753M706,414H753"/>
<rect x="717" y="293" width="12" height="75" stroke-dasharray="4 3"/>
<rect x="893" y="293" width="13" height="75" stroke-dasharray="4 3"/>
<circle cx="732" cy="332" r="9"/><circle cx="732" cy="332" r="7"/>
<path d="M751,266H903Q906,266 906,269V395Q906,398 903,398H751"/>
<path d="M754,268V279M754,386V396"/>
<rect x="754" y="279" width="132" height="107"/>
<path d="M790,386V398"/>
<path d="M776,364L810,301M826,364L860,301" stroke-width="15" stroke-linecap="round"/>
<path d="M776,364L810,301M826,364L860,301" stroke="#fff" stroke-width="13" stroke-linecap="round"/>
<rect x="754" y="319" width="128" height="26" fill="#fff"/>
<circle cx="769" cy="332" r="10"/><circle cx="819" cy="332" r="10"/><circle cx="866" cy="332" r="10"/>
<path d="M764,338L772,325M767,340L775,327M814,338L822,325M817,340L825,327M861,338L869,325M864,340L872,327"/>
<path d="M632,302q8,-10 16,0q8,-10 16,0q8,-10 16,0q8,-10 16,0q8,-10 16,0M632,362q8,10 16,0q8,10 16,0q8,10 16,0q8,10 16,0q8,10 16,0M632,302V362M636,298L644,366M652,298L660,366M668,298L676,366M684,298L692,366M700,298L708,366"/>
<path d="M906,302q8.4,-10 16.8,0q8.4,-10 16.8,0q8.4,-10 16.8,0q8.4,-10 16.8,0q8.4,-10 16.8,0M906,362q8.4,10 16.8,0q8.4,10 16.8,0q8.4,10 16.8,0q8.4,10 16.8,0q8.4,10 16.8,0M990,302V362M914,298L922,366M931,298L939,366M948,298L956,366M965,298L973,366M979,298L986,366"/>
<path d="M625,332H995" stroke-dasharray="30 3 3 3"/>
<path d="M732,478V438" marker-end="url(#ar)"/><path d="M732,478H755"/>
<path d="M773,478V400" marker-end="url(#ar)"/><path d="M773,478H813"/>
<path d="M853,478V400" marker-end="url(#ar)"/><path d="M853,478H891"/>
</g>
<g fill="#333" font-size="14">
<text x="210" y="300">30°</text><text x="210" y="372">30°</text>
<text transform="translate(240,211) rotate(45)" font-size="13">BCD E</text>
<text x="498" y="243" font-size="13.5">T&lt;12 M6×1P</text>
<text x="498" y="262" font-size="13.5">T≥12 1/8PT</text>
<text x="498" y="276" font-size="13.5">OIL HOLE</text>
<text x="812" y="140" text-anchor="middle">L</text>
<text x="732" y="167" text-anchor="middle">T</text>
<text x="770" y="167" text-anchor="middle">S</text>
<text x="721" y="195" text-anchor="middle">Z</text>
<text transform="translate(775,212) rotate(-90)" text-anchor="middle">ØX</text>
<text transform="translate(682,249) rotate(-90)" text-anchor="middle">ØY</text>
<text x="735" y="474">ØF</text>
<text x="776" y="474">ØDg6</text>
<text x="856" y="474">ØD</text>
<text x="876" y="465" font-size="7">-0.1</text><text x="876" y="472" font-size="7">-0.3</text>
</g>
</g>

<!-- ===== Drawing 2 ===== -->
<g transform="translate(26,1454)">
<g fill="none" stroke="#383838" stroke-width="1">
<circle cx="356" cy="331" r="103"/>
<circle cx="356" cy="331" r="82" stroke-dasharray="16 3 2 3"/>
<circle cx="356" cy="331" r="66" stroke-dasharray="5 3"/>
<circle cx="356" cy="331" r="36"/><circle cx="356" cy="331" r="31"/><circle cx="356" cy="331" r="26"/>
<circle cx="356" cy="249" r="14"/><circle cx="356" cy="249" r="8"/>
<circle cx="356" cy="413" r="14"/><circle cx="356" cy="413" r="8"/>
<circle cx="285" cy="290" r="14"/><circle cx="285" cy="290" r="8"/>
<circle cx="427" cy="290" r="14"/><circle cx="427" cy="290" r="8"/>
<circle cx="285" cy="372" r="14"/><circle cx="285" cy="372" r="8"/>
<circle cx="427" cy="372" r="14"/><circle cx="427" cy="372" r="8"/>
<path d="M340,249H372M340,413H372"/>
<path d="M356,215V457M207,331H470" stroke-dasharray="40 3 3 3"/>
<path d="M228,257L440,380M228,405L457,273"/>
<path d="M232,259.5A143,143 0 0 0 213,331" marker-start="url(#ar)" marker-end="url(#ar)"/>
<path d="M213,331A143,143 0 0 0 232,402.5" marker-start="url(#ar)" marker-end="url(#ar)"/>
<path d="M232,207L413,388" marker-end="url(#ar)"/>
<path d="M363,297H393M363,367H393M393,278V387M393,319H413V346H393M363,297V306M363,358V367" stroke-dasharray="4 2"/>
<path d="M413,323H460M413,342H460M460,323V342"/>
<path d="M437,323V342" stroke-dasharray="2 2"/>
<path d="M495,247L463,327" marker-end="url(#ar)"/>
<path d="M495,247H577"/>
<path d="M712,140V228M906,140V266M751,166V228M790,166V279M730,188V233"/>
<path d="M712,146H906" marker-start="url(#ar)" marker-end="url(#ar)"/>
<path d="M712,173H751" marker-start="url(#ar)" marker-end="url(#ar)"/>
<path d="M752,173H790" marker-start="url(#ar)" marker-end="url(#ar)"/>
<path d="M690,201H712" marker-end="url(#ar)"/><path d="M712,201H730"/><path d="M751,201H730" marker-end="url(#ar)"/>
<path d="M779,202V238" marker-end="url(#ar)"/><path d="M779,282V258" marker-end="url(#ar)"/>
<path d="M730,238H784M730,258H784"/>
<path d="M684,210V233" marker-end="url(#ar)"/><path d="M684,287V265" marker-end="url(#ar)"/>
<path d="M680,233H712M680,265H712"/>
<rect x="712" y="228" width="39" height="208" rx="3"/>
<path d="M717,230V434"/>
<path d="M717,233H730V265H717M717,398H730V430H717M730,405H751M730,425H751" stroke-dasharray="3 2"/>
<path d="M706,250H753M706,414H753"/>
<rect x="717" y="293" width="12" height="75" stroke-dasharray="4 3"/>
<rect x="893" y="293" width="13" height="75" stroke-dasharray="4 3"/>
<circle cx="732" cy="332" r="9"/><circle cx="732" cy="332" r="7"/>
<path d="M751,266H903Q906,266 906,269V395Q906,398 903,398H751"/>
<path d="M754,268V279M754,386V396"/>
<rect x="754" y="279" width="132" height="107"/>
<path d="M790,386V398"/>
<path d="M776,364L810,301M826,364L860,301" stroke-width="15" stroke-linecap="round"/>
<path d="M776,364L810,301M826,364L860,301" stroke="#fff" stroke-width="13" stroke-linecap="round"/>
<rect x="754" y="319" width="128" height="26" fill="#fff"/>
<circle cx="769" cy="332" r="10"/><circle cx="819" cy="332" r="10"/><circle cx="866" cy="332" r="10"/>
<path d="M764,338L772,325M767,340L775,327M814,338L822,325M817,340L825,327M861,338L869,325M864,340L872,327"/>
<path d="M632,302q8,-10 16,0q8,-10 16,0q8,-10 16,0q8,-10 16,0q8,-10 16,0M632,362q8,10 16,0q8,10 16,0q8,10 16,0q8,10 16,0q8,10 16,0M632,302V362M636,298L644,366M652,298L660,366M668,298L676,366M684,298L692,366M700,298L708,366"/>
<path d="M906,302q8.4,-10 16.8,0q8.4,-10 16.8,0q8.4,-10 16.8,0q8.4,-10 16.8,0q8.4,-10 16.8,0M906,362q8.4,10 16.8,0q8.4,10 16.8,0q8.4,10 16.8,0q8.4,10 16.8,0q8.4,10 16.8,0M990,302V362M914,298L922,366M931,298L939,366M948,298L956,366M965,298L973,366M979,298L986,366"/>
<path d="M625,332H995" stroke-dasharray="30 3 3 3"/>
<path d="M732,478V438" marker-end="url(#ar)"/><path d="M732,478H755"/>
<path d="M773,478V400" marker-end="url(#ar)"/><path d="M773,478H813"/>
<path d="M853,478V400" marker-end="url(#ar)"/><path d="M853,478H891"/>
</g>
<g fill="#333" font-size="14">
<text x="210" y="300">30°</text><text x="210" y="372">30°</text>
<text transform="translate(240,211) rotate(45)" font-size="13">BCD E</text>
<text x="498" y="243" font-size="13.5">T&lt;12 M6×1P</text>
<text x="498" y="262" font-size="13.5">T≥12 1/8PT</text>
<text x="498" y="276" font-size="13.5">OIL HOLE</text>
<text x="812" y="140" text-anchor="middle">L</text>
<text x="732" y="167" text-anchor="middle">T</text>
<text x="770" y="167" text-anchor="middle">S</text>
<text x="721" y="195" text-anchor="middle">Z</text>
<text transform="translate(775,212) rotate(-90)" text-anchor="middle">ØX</text>
<text transform="translate(682,249) rotate(-90)" text-anchor="middle">ØY</text>
<text x="735" y="474">ØF</text>
<text x="776" y="474">ØDg6</text>
<text x="856" y="474">ØD</text>
<text x="876" y="465" font-size="7">-0.1</text><text x="876" y="472" font-size="7">-0.3</text>
</g>
</g>

<!-- ===== Drawing 3 ===== -->
<g transform="translate(-2,2898)">
<g fill="none" stroke="#383838" stroke-width="1">
<circle cx="356" cy="331" r="103"/>
<circle cx="356" cy="331" r="82" stroke-dasharray="16 3 2 3"/>
<circle cx="356" cy="331" r="66" stroke-dasharray="5 3"/>
<circle cx="356" cy="331" r="36"/><circle cx="356" cy="331" r="31"/><circle cx="356" cy="331" r="26"/>
<circle cx="356" cy="249" r="14"/><circle cx="356" cy="249" r="8"/>
<circle cx="356" cy="413" r="14"/><circle cx="356" cy="413" r="8"/>
<circle cx="285" cy="290" r="14"/><circle cx="285" cy="290" r="8"/>
<circle cx="427" cy="290" r="14"/><circle cx="427" cy="290" r="8"/>
<circle cx="285" cy="372" r="14"/><circle cx="285" cy="372" r="8"/>
<circle cx="427" cy="372" r="14"/><circle cx="427" cy="372" r="8"/>
<path d="M340,249H372M340,413H372"/>
<path d="M356,215V457M207,331H470" stroke-dasharray="40 3 3 3"/>
<path d="M228,257L440,380M228,405L457,273"/>
<path d="M232,259.5A143,143 0 0 0 213,331" marker-start="url(#ar)" marker-end="url(#ar)"/>
<path d="M213,331A143,143 0 0 0 232,402.5" marker-start="url(#ar)" marker-end="url(#ar)"/>
<path d="M232,207L413,388" marker-end="url(#ar)"/>
<path d="M363,297H393M363,367H393M393,278V387M393,319H413V346H393M363,297V306M363,358V367" stroke-dasharray="4 2"/>
<path d="M413,323H460M413,342H460M460,323V342"/>
<path d="M437,323V342" stroke-dasharray="2 2"/>
<path d="M495,247L463,327" marker-end="url(#ar)"/>
<path d="M495,247H577"/>
<path d="M712,140V228M906,140V266M751,166V228M790,166V279M730,188V233"/>
<path d="M712,146H906" marker-start="url(#ar)" marker-end="url(#ar)"/>
<path d="M712,173H751" marker-start="url(#ar)" marker-end="url(#ar)"/>
<path d="M752,173H790" marker-start="url(#ar)" marker-end="url(#ar)"/>
<path d="M690,201H712" marker-end="url(#ar)"/><path d="M712,201H730"/><path d="M751,201H730" marker-end="url(#ar)"/>
<path d="M779,202V238" marker-end="url(#ar)"/><path d="M779,282V258" marker-end="url(#ar)"/>
<path d="M730,238H784M730,258H784"/>
<path d="M684,210V233" marker-end="url(#ar)"/><path d="M684,287V265" marker-end="url(#ar)"/>
<path d="M680,233H712M680,265H712"/>
<rect x="712" y="228" width="39" height="208" rx="3"/>
<path d="M717,230V434"/>
<path d="M717,233H730V265H717M717,398H730V430H717M730,405H751M730,425H751" stroke-dasharray="3 2"/>
<path d="M706,250H753M706,414H753"/>
<rect x="717" y="293" width="12" height="75" stroke-dasharray="4 3"/>
<rect x="893" y="293" width="13" height="75" stroke-dasharray="4 3"/>
<circle cx="732" cy="332" r="9"/><circle cx="732" cy="332" r="7"/>
<path d="M751,266H903Q906,266 906,269V395Q906,398 903,398H751"/>
<path d="M754,268V279M754,386V396"/>
<rect x="754" y="279" width="132" height="107"/>
<path d="M790,386V398"/>
<path d="M776,364L810,301M826,364L860,301" stroke-width="15" stroke-linecap="round"/>
<path d="M776,364L810,301M826,364L860,301" stroke="#fff" stroke-width="13" stroke-linecap="round"/>
<rect x="754" y="319" width="128" height="26" fill="#fff"/>
<circle cx="769" cy="332" r="10"/><circle cx="819" cy="332" r="10"/><circle cx="866" cy="332" r="10"/>
<path d="M764,338L772,325M767,340L775,327M814,338L822,325M817,340L825,327M861,338L869,325M864,340L872,327"/>
<path d="M632,302q8,-10 16,0q8,-10 16,0q8,-10 16,0q8,-10 16,0q8,-10 16,0M632,362q8,10 16,0q8,10 16,0q8,10 16,0q8,10 16,0q8,10 16,0M632,302V362M636,298L644,366M652,298L660,366M668,298L676,366M684,298L692,366M700,298L708,366"/>
<path d="M906,302q8.4,-10 16.8,0q8.4,-10 16.8,0q8.4,-10 16.8,0q8.4,-10 16.8,0q8.4,-10 16.8,0M906,362q8.4,10 16.8,0q8.4,10 16.8,0q8.4,10 16.8,0q8.4,10 16.8,0q8.4,10 16.8,0M990,302V362M914,298L922,366M931,298L939,366M948,298L956,366M965,298L973,366M979,298L986,366"/>
<path d="M625,332H995" stroke-dasharray="30 3 3 3"/>
<path d="M732,478V438" marker-end="url(#ar)"/><path d="M732,478H755"/>
<path d="M773,478V400" marker-end="url(#ar)"/><path d="M773,478H813"/>
<path d="M853,478V400" marker-end="url(#ar)"/><path d="M853,478H891"/>
</g>
<g fill="#333" font-size="14">
<text x="210" y="300">30°</text><text x="210" y="372">30°</text>
<text transform="translate(240,211) rotate(45)" font-size="13">BCD E</text>
<text x="498" y="243" font-size="13.5">T&lt;12 M6×1P</text>
<text x="498" y="262" font-size="13.5">T≥12 1/8PT</text>
<text x="498" y="276" font-size="13.5">OIL HOLE</text>
<text x="812" y="140" text-anchor="middle">L</text>
<text x="732" y="167" text-anchor="middle">T</text>
<text x="770" y="167" text-anchor="middle">S</text>
<text x="721" y="195" text-anchor="middle">Z</text>
<text transform="translate(775,212) rotate(-90)" text-anchor="middle">ØX</text>
<text transform="translate(682,249) rotate(-90)" text-anchor="middle">ØY</text>
<text x="735" y="474">ØF</text>
<text x="776" y="474">ØDg6</text>
<text x="856" y="474">ØD</text>
<text x="876" y="465" font-size="7">-0.1</text><text x="876" y="472" font-size="7">-0.3</text>
</g>
</g>
</svg>
</body></html>
